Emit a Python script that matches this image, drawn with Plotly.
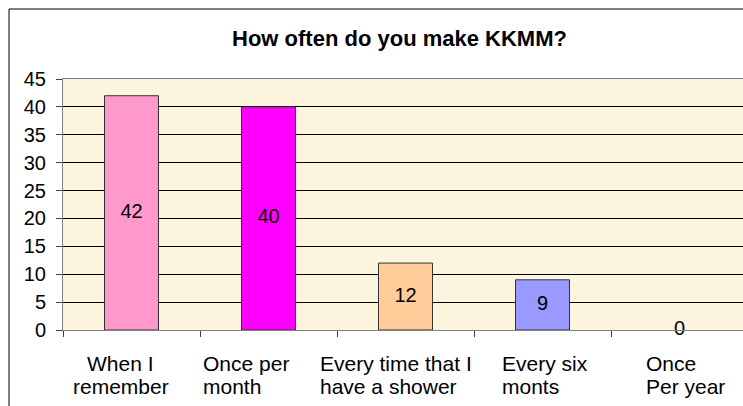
import plotly.graph_objects as go

# ---- data ----
categories = ["When I remember", "Once per month", "Every time that I have a shower",
              "Every six monts", "Once Per year"]
label_lines = [["When I", "remember"], ["Once per", "month"], ["Every time that I", "have a shower"],
               ["Every six", "monts"], ["Once", "Per year"]]
values = [42, 40, 12, 9, 0]
y_ticks = [0, 5, 10, 15, 20, 25, 30, 35, 40, 45]
title_text = "How often do you make KKMM?"

# ---- styles ----
bar_colors = ["#FF99CC", "#FF00FF", "#FFCC99", "#9999FF", "#CCFFFF"]
bar_line_widths = [1, 1, 1, 1, 0]
label_anchor = ["center", "left", "left", "left", "left"]
label_xshift = [-11, -68, -88, -43, -36]
FONT = "Liberation Sans, Arial, sans-serif"

W, H = 743, 406
ML, MR, MT = 63, 0, 79
MB = H - 330
plot_w = W - ML - MR
plot_h = H - MT - MB
cat_px = 137.0
x_hi = -0.5 + plot_w / cat_px

fig = go.Figure()
fig.add_trace(go.Bar(
    x=categories, y=values,
    marker=dict(color=bar_colors, line=dict(color="#333333", width=bar_line_widths)),
    hoverinfo="skip",
))
fig.add_trace(go.Scatter(
    x=categories, y=[v / 2 for v in values],
    mode="text", text=[str(v) for v in values],
    textposition="middle center",
    textfont=dict(family=FONT, size=20, color="#000000"),
    cliponaxis=False, hoverinfo="skip",
))

annotations = []
for i, (cat, lines) in enumerate(zip(categories, label_lines)):
    for j, line in enumerate(lines):
        annotations.append(dict(
            x=cat, xref="x", y=0, yref="paper",
            text=line, showarrow=False,
            xanchor=label_anchor[i], yanchor="middle",
            xshift=label_xshift[i], yshift=-33 - 23 * j,
            font=dict(family=FONT, size=21, color="#000000"),
        ))

fig.update_layout(
    width=W, height=H,
    margin=dict(l=ML, r=MR, t=MT, b=MB, pad=0),
    paper_bgcolor="#FFFFFF",
    plot_bgcolor="#FCF4DD",
    showlegend=False,
    bargap=0.606,
    title=dict(text="<b>" + title_text + "</b>", x=399.5 / W, xanchor="center",
               y=1 - 38 / H, yanchor="middle",
               font=dict(family=FONT, size=22, color="#000000")),
    xaxis=dict(
        type="category", range=[-0.5, x_hi],
        showgrid=False, showticklabels=False,
        ticks="outside", ticklen=6, tickcolor="#404040", tickson="boundaries",
        showline=True, linecolor="#808080", linewidth=1, mirror=True,
        fixedrange=True,
    ),
    yaxis=dict(
        range=[0, 45], tickvals=y_ticks, ticktext=[str(t) for t in y_ticks],
        showgrid=True, gridcolor="#000000", gridwidth=1,
        zeroline=False,
        ticks="outside", ticklen=6, tickcolor="#404040",
        ticklabelstandoff=6,
        showline=True, linecolor="#808080", linewidth=1,
        tickfont=dict(family=FONT, size=20, color="#000000"),
        fixedrange=True,
    ),
    annotations=annotations,
    shapes=[dict(type="rect", xref="paper", yref="paper",
                 x0=(9 - ML) / plot_w, x1=1.2,
                 y0=-0.6, y1=(330 - 9) / plot_h,
                 line=dict(color="#000000", width=1), fillcolor="rgba(0,0,0,0)",
                 layer="above")],
)

fig.write_html(
    "out.html",
    config={"displayModeBar": False},
    post_script="document.body.style.margin='0';document.body.style.overflow='hidden';",
)
